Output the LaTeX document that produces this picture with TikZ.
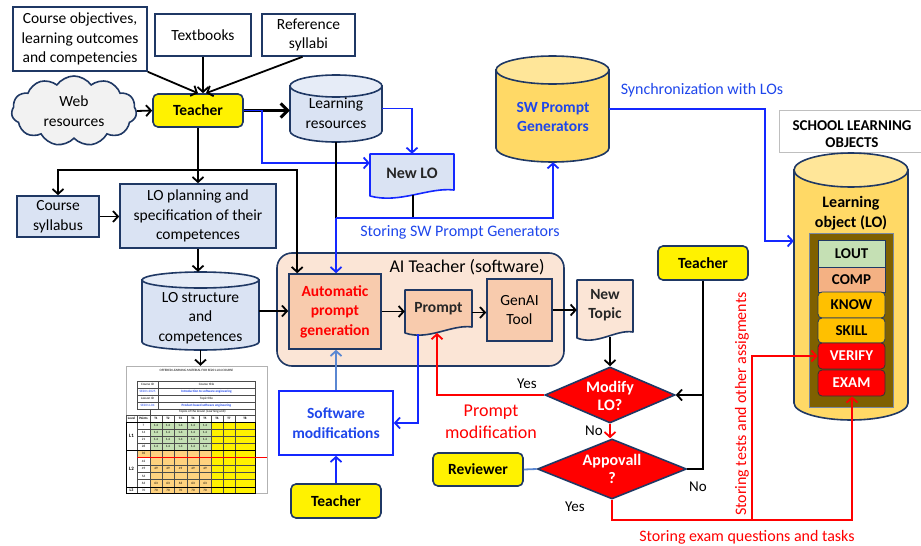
\documentclass[tikz,border=0pt]{standalone}
\usepackage{fontspec}
\setmainfont{Carlito}
\usetikzlibrary{arrows.meta,shapes.geometric,shapes.symbols,calc}

\definecolor{navy}{HTML}{1F3864}
\definecolor{lblue}{HTML}{DAE3F3}
\definecolor{lbluetop}{HTML}{E6ECF7}
\definecolor{peach}{HTML}{FBE5D6}
\definecolor{salmon}{HTML}{F8CBAD}
\definecolor{gold}{HTML}{FFD966}
\definecolor{goldtop}{HTML}{FFE699}
\definecolor{olive}{HTML}{7F6000}
\definecolor{lgreen}{HTML}{C5E0B4}
\definecolor{ltorange}{HTML}{F4B183}
\definecolor{amber}{HTML}{FFC000}
\definecolor{tabor}{HTML}{FFD27F}
\definecolor{cloudgray}{HTML}{F2F2F2}
\definecolor{lineblue}{RGB}{20,40,255}
\definecolor{textblue}{RGB}{30,70,235}
\definecolor{steel}{RGB}{90,135,210}
\definecolor{brightred}{RGB}{255,0,0}

% cylinder: x1, y1 (top), x2, y2 (bottom), half height of the end ellipse, body fill, top fill
\newcommand\cylshape[7]{%
  \pgfmathsetmacro\cylcx{(#1+#3)/2}%
  \pgfmathsetmacro\cylrx{(#3-#1)/2}%
  \path[draw=navy, fill=#6, line width=1.6pt]
    (#1,{#2+#5}) -- (#1,{#4-#5})
    arc[start angle=180, end angle=0, x radius=\cylrx, y radius=#5]
    -- (#3,{#2+#5}) -- cycle;
  \path[draw=navy, fill=#7, line width=1.6pt]
    (\cylcx,{#2+#5}) ellipse[x radius=\cylrx, y radius=#5];}

% document shape with a wavy lower edge: x1, y1, x2, y2, fill, border
\newcommand\docshape[6]{%
  \path[draw=#6, fill=#5, line width=1.6pt, line join=round]
    (#1,#2) -- (#3,#2) -- (#3,{#4-8})
    .. controls ({#3-0.3*(#3-#1)},{#4-11}) and ({#1+0.35*(#3-#1)},{#4+6}) .. (#1,{#4-2})
    -- cycle;}

\tikzset{
  txt/.style={font=\fontsize{15.5}{19.5}\selectfont, align=center, inner sep=0pt},
  lbl/.style={font=\fontsize{16}{20}\selectfont, align=center, inner sep=0pt},
  navyframe/.style={draw=navy, line width=1.6pt},
  plainbox/.style={txt, navyframe, fill=white},
  bluebox/.style={txt, navyframe, fill=lblue},
  yellowbox/.style={txt, navyframe, fill=yellow, rounded corners=5pt,
    font=\fontsize{15.5}{19}\selectfont\bfseries, minimum width=90pt, minimum height=34pt},
  area/.style={inner sep=0pt},
  bfont/.style={font=\fontsize{15.5}{19.5}\selectfont\bfseries},
  conn/.style={line width=1.8pt, draw=black},
  arr/.style={conn, -{Straight Barb[length=5pt,width=11pt]}},
  bconn/.style={line width=1.8pt, draw=lineblue},
  barr/.style={bconn, -{Straight Barb[length=5pt,width=11pt]}},
  rconn/.style={line width=1.8pt, draw=brightred},
  rarr/.style={rconn, -{Straight Barb[length=5pt,width=11pt]}},
  decision/.style={diamond, draw=navy, line width=1.6pt, fill=brightred, inner sep=0pt},
  loitem/.style={draw=navy, line width=0.8pt, minimum width=67pt, inner sep=0pt,
    font=\fontsize{15}{18}\selectfont\bfseries},
  tabtxt/.style={font=\fontsize{3.3}{4}\selectfont, inner sep=0pt},
  tabgrid/.style={draw=black!70, line width=0.35pt},
}

\begin{document}
\begin{tikzpicture}[x=1pt,y=-1pt]
\useasboundingbox (0,0) rectangle (921,546);

% ---------- inputs of the teacher ----------
\node[plainbox, minimum width=134pt, minimum height=64pt] (obj) at (80,39)
  {Course objectives,\\learning outcomes\\and competencies};
\node[plainbox, minimum width=96pt, minimum height=42pt] (textbooks) at (203,35) {Textbooks};
\node[plainbox, minimum width=93pt, minimum height=42pt] (refsyl) at (308.5,35) {Reference\\syllabi};
\node[cloud, cloud puffs=11, cloud puff arc=110, aspect=1.8, navyframe, fill=cloudgray, txt,
  minimum width=125pt, minimum height=70pt] (web) at (74,111) {Web\\resources};
\node[yellowbox, minimum height=33pt] (teacher1) at (198,110.5) {Teacher};

% ---------- learning resources and new LO ----------
\cylshape{290}{75}{382}{142}{11}{lblue}{lbluetop}
\node[area, minimum width=92pt, minimum height=67pt] (lres) at (336,108.5) {};
\node[txt] (lrestext) at (336,113) {Learning\\resources};

\docshape{370}{154}{454}{198}{lblue}{lineblue}
\node[area, minimum width=84pt, minimum height=44pt] (newlo) at (412,176) {};
\node[txt, font=\fontsize{16}{19}\selectfont\bfseries, text=black!85] (newlotext) at (412,173) {New LO};

\cylshape{496}{56}{609}{162}{14}{gold}{goldtop}
\node[area, minimum width=113pt, minimum height=106pt] (swpg) at (552.5,109) {};
\node[txt, bfont, text=textblue] (swpgtext) at (553,117) {SW Prompt\\Generators};

% ---------- planning ----------
\node[bluebox, minimum width=82pt, minimum height=41pt] (syllabus) at (58,216.5) {Course\\syllabus};
\node[bluebox, minimum width=156pt, minimum height=64pt] (lop) at (198,216)
  {LO planning and\\specification of their\\competences};

\cylshape{142}{272}{259}{350}{8}{lblue}{lbluetop}
\node[area, minimum width=117pt, minimum height=78pt] (lostruct) at (200.5,311) {};
\node[txt] (lostructtext) at (200.5,318) {LO structure\\and\\competences};

% ---------- AI teacher software ----------
\node[draw=navy, line width=1.6pt, fill=peach, rounded corners=15pt, minimum width=287pt,
  minimum height=113pt, inner sep=0pt] (aibox) at (420.5,309.5) {};
\node[lbl, font=\fontsize{18}{22}\selectfont] (aititle) at (467,267) {AI Teacher (software)};
\node[navyframe, fill=salmon, txt, bfont, text=brightred, minimum width=92pt, minimum height=75pt]
  (auto) at (335,311.5) {Automatic\\prompt\\generation};
\docshape{405}{290}{472}{335}{salmon}{navy}
\node[area, minimum width=67pt, minimum height=45pt] (prompt) at (438.5,312.5) {};
\node[txt, bfont, text=black!85] (prompttext) at (438.5,309) {Prompt};
\node[navyframe, fill=salmon, txt, minimum width=65pt, minimum height=62pt] (genai) at (519.5,310) {GenAI\\Tool};
\docshape{577}{280}{633}{340}{peach}{navy}
\node[area, minimum width=56pt, minimum height=60pt] (newtopic) at (605,310) {};
\node[txt, bfont, text=black!85] (newtopictext) at (605,305) {New\\Topic};

% ---------- decisions ----------
\node[decision, minimum width=130pt, minimum height=56pt] (modify) at (610,395) {};
\node[txt, font=\fontsize{16}{18.5}\selectfont\bfseries, text=white] (modifytext) at (610,396) {Modify\\LO?};
\node[decision, minimum width=149pt, minimum height=60pt] (approve) at (612,469) {};
\node[txt, font=\fontsize{16}{18.5}\selectfont\bfseries, text=white] (approvetext) at (612,469) {Appovall\\?};

\node[draw=lineblue, line width=1.6pt, fill=white, txt, bfont, text=textblue,
  minimum width=114pt, minimum height=64pt] (swmod) at (336,423) {Software\\modifications};
\node[yellowbox] (teacher2) at (336,501) {Teacher};
\node[yellowbox, minimum height=33pt] (reviewer) at (478,469.5) {Reviewer};
\node[yellowbox] (teacher3) at (703,263) {Teacher};

% ---------- school learning objects ----------
\node[draw=black!25, line width=0.6pt, fill=white, minimum width=146pt, minimum height=42pt,
  inner sep=0pt] (schoolbox) at (852,131) {};
\node[txt, font=\fontsize{15}{17.5}\selectfont\bfseries] (schooltext) at (852,134) {SCHOOL LEARNING\\OBJECTS};

\cylshape{794}{153}{908}{420}{17}{gold}{goldtop}
\node[area, minimum width=114pt, minimum height=267pt] (locyl) at (851,286.5) {};
\node[txt, font=\fontsize{16}{20}\selectfont\bfseries] (locyltext) at (851,213) {Learning\\object (LO)};
\node[draw=navy!60, fill=olive, line width=0.8pt, minimum width=84pt, minimum height=174pt,
  inner sep=0pt] (inner) at (851,320) {};
\node[loitem, fill=lgreen, minimum height=27pt] (lout) at (851.5,253.5) {LOUT};
\node[loitem, fill=ltorange, minimum height=25pt] (comp) at (851.5,279.5) {COMP};
\node[loitem, fill=amber, rounded corners=4pt, minimum height=26pt] (know) at (851.5,305) {KNOW};
\node[loitem, fill=amber, rounded corners=4pt, minimum height=25pt] (skill) at (851.5,330.5) {SKILL};
\node[loitem, draw=black!80, fill=brightred, rounded corners=4pt, minimum height=26pt, text=white] (verify) at (851.5,356) {VERIFY};
\node[loitem, draw=black!80, fill=brightred, rounded corners=4pt, minimum height=26pt, text=white] (exam) at (851.5,383) {EXAM};

% ---------- offered learning material table ----------
\node[draw=black!30, line width=0.5pt, fill=white, minimum width=141pt, minimum height=127pt,
  inner sep=0pt] (table) at (196.5,429.5) {};
\node[tabtxt] (tabtitle) at (196.5,370.5) {OFFERED LEARNING MATERIAL FOR SE201-L04 COURSE};
\fill[lgreen] (150,422) rectangle (211,450);
\fill[tabor] (150,450) rectangle (211,493);
\fill[tabor] (137,450) rectangle (150,457.4);
\fill[yellow] (211,422) rectangle (255,493);
\draw[tabgrid] (137,381) rectangle (255,409);
\foreach \yy in {388,395,402} \draw[tabgrid] (137,\yy) -- (255,\yy);
\draw[tabgrid] (158,381) -- (158,409);
\draw[tabgrid] (150,409) rectangle (255,415);
\foreach \yy in {415,422,429,436,443,450,457.4,464.8,472.2,479.6,487,493}
  \draw[tabgrid] (137,\yy) -- (255,\yy);
\foreach \xx in {137,150,162,174,187,199,211,223,235,255}
  \draw[tabgrid] (\xx,415) -- (\xx,493);
\draw[tabgrid] (126,415) rectangle (137,493);
\draw[line width=0.9pt] (126,422) rectangle (255,450);
\draw[line width=0.9pt] (126,450) rectangle (255,487);
\draw[line width=0.9pt] (126,487) rectangle (255,493);
\draw[brightred, line width=0.9pt] (137,457.4) -- (267,457.4);
\node[tabtxt] (tc1) at (147.5,384.5) {Course ID};
\node[tabtxt] (tc2) at (206.5,384.5) {Course title};
\node[tabtxt, text=textblue] (tc3) at (147.5,391.5) {SE201-2025};
\node[tabtxt, text=textblue, font=\fontsize{3.3}{4}\selectfont\bfseries] (tc4) at (206.5,391.5) {Introduction to software engineering};
\node[tabtxt] (tc5) at (147.5,398.5) {Lesson ID};
\node[tabtxt] (tc6) at (206.5,398.5) {Topic title};
\node[tabtxt, text=textblue] (tc7) at (147.5,405.5) {SE201-L04};
\node[tabtxt, text=textblue, font=\fontsize{3.3}{4}\selectfont\bfseries] (tc8) at (206.5,405.5) {Product-based software engineering};
\node[tabtxt] (tc9) at (202.5,412) {Topics of the lesson (Learning unit)};
\foreach \xx/\lab [count=\i] in {131.5/Level,143.5/Points,156/T1,168/T2,180.5/T3,193/T4,205/T5,217/T6,229/T7,245/T8}
  \node[tabtxt, font=\fontsize{3.3}{4}\selectfont\bfseries] (hd\i) at (\xx,418.5) {\lab};
\foreach \yy/\pp [count=\r] in {425.5/7,432.5/14,439.5/21,446.5/28} {
  \node[tabtxt] (pa\r) at (143.5,\yy) {\pp};
  \foreach \xx [count=\c] in {156,168,180.5,193,205}
    \node[tabtxt] (va\r\c) at (\xx,\yy) {1.4};
}
\foreach \yy/\pp [count=\r] in {453.7/35,461.1/42,468.5/49,475.9/56,483.3/63}
  \node[tabtxt] (pb\r) at (143.5,\yy) {\pp};
\foreach \xx [count=\c] in {156,168,180.5,193,205} {
  \node[tabtxt] (vb\c) at (\xx,468.5) {49};
  \node[tabtxt] (vc\c) at (\xx,483.3) {63};
  \node[tabtxt] (vd\c) at (\xx,490) {70};
}
\node[tabtxt] (pc1) at (143.5,490) {70};
\node[tabtxt, font=\fontsize{5}{6}\selectfont\bfseries] (lv1) at (131.5,436) {L1};
\node[tabtxt, font=\fontsize{5}{6}\selectfont\bfseries] (lv2) at (131.5,468.5) {L2};
\node[tabtxt, font=\fontsize{4}{5}\selectfont\bfseries] (lv3) at (131.5,490) {L3};

% ---------- connectors ----------
\draw[arr] (obj.south east) -- (teacher1.north);
\draw[arr] (textbooks.south) -- (textbooks.south |- teacher1.north);
\draw[arr] ([xshift=-6pt]refsyl.south) -- ([xshift=8pt]teacher1.north);
\draw[arr] (web.east) -- (teacher1.west);
\draw[line width=3pt, -{Straight Barb[length=7pt,width=14pt]}] (teacher1.east) -- (teacher1.east -| lres.west);

\coordinate (b1) at (262,163);
\draw[barr] (teacher1.east) -| (b1) -- (b1 -| newlo.west);
\draw[barr] (lres.east) -| (newlo.north);

\coordinate (j1) at (336,218);
\coordinate (j2) at (413,218);
\coordinate (j3) at (553,218);
\coordinate (newlobot) at (413,195);
\draw[conn] (lres.south) -- (j1);
\draw[conn] (newlobot) -- (j2);
\draw[barr] (j1) -- (j3) -- (j3 |- swpg.south);
\draw[barr] (j1) -- (j1 |- auto.north);
\node[lbl, text=textblue] (storingsw) at (460,232) {Storing SW Prompt Generators};

\coordinate (t1) at (198,170);
\draw[arr] (teacher1.south) -- (lop.north);
\draw[arr] (t1) -| (syllabus.north);
\draw[arr] (t1) -| ($(auto.north west)+(9,0)$);
\draw[arr] (syllabus.east) -- (syllabus.east -| lop.west);
\draw[arr] (lop.south) -- (lop.south |- lostruct.north);
\draw[arr] (lostruct.east) -- (lostruct.east -| auto.west);
\draw[arr] (lostruct.south) -- (lostruct.south |- table.north);

\draw[arr] (auto.east) -- (auto.east -| prompt.west);
\draw[arr] (prompt.east) -- (prompt.east -| genai.west);
\draw[arr] (genai.east) -- (genai.east -| newtopic.west);
\coordinate (ntbot) at (610,337);
\draw[arr] (ntbot) -- (modify.north);

\draw[line width=1.8pt, draw=steel, -{Straight Barb[length=5pt,width=11pt]}] (swmod.north) -- (swmod.north |- auto.south);
\draw[barr] (teacher2.north) -- (swmod.south);
\coordinate (promptout) at (418,334);
\draw[barr] (promptout) |- (swmod.east);
\coordinate (promptin) at (437,333);
\draw[rarr] (modify.west) -| (promptin);
\node[lbl, font=\fontsize{15}{18}\selectfont] (yes1) at (527,384) {Yes};
\node[lbl, font=\fontsize{18}{22}\selectfont, text=brightred] (pmod) at (491,422) {Prompt\\modification};

\draw[rarr] (modify.south) -- (modify.south |- approve.north);
\node[lbl, font=\fontsize{15}{18}\selectfont] (no1) at (594,431) {No};
\draw[line width=1.8pt, draw=steel] (reviewer.east) -- (approve.west);

\coordinate (k1) at (703,395);
\coordinate (k2) at (703,469);
\draw[arr] (teacher3.south) -- (k1) -- (modify.east);
\draw[conn] (approve.east) -- (k2) -- (k1);
\node[lbl, font=\fontsize{15}{18}\selectfont] (no2) at (698,487) {No};
\node[lbl, font=\fontsize{15}{18}\selectfont] (yes2) at (575,507) {Yes};

\coordinate (r1) at (612,520);
\coordinate (r2) at (852,520);
\coordinate (r3) at (752,520);
\coordinate (r4) at (752,356);
\draw[rarr] (approve.south) -- (r1) -- (r2) -- (r2 |- exam.south);
\draw[rarr] (r3) -- (r4) -- (verify.west);
\node[lbl, text=brightred] (storeexam) at (747,537) {Storing exam questions and tasks};
\node[lbl, text=brightred, rotate=90] (storetests) at (742,404) {Storing tests and other assigments};

\coordinate (s2) at (765,241);
\draw[barr] (swpg.east) -| (s2) -- (s2 -| locyl.west);
\node[lbl, text=textblue] (sync) at (702,90) {Synchronization with LOs};

\end{tikzpicture}
\end{document}
